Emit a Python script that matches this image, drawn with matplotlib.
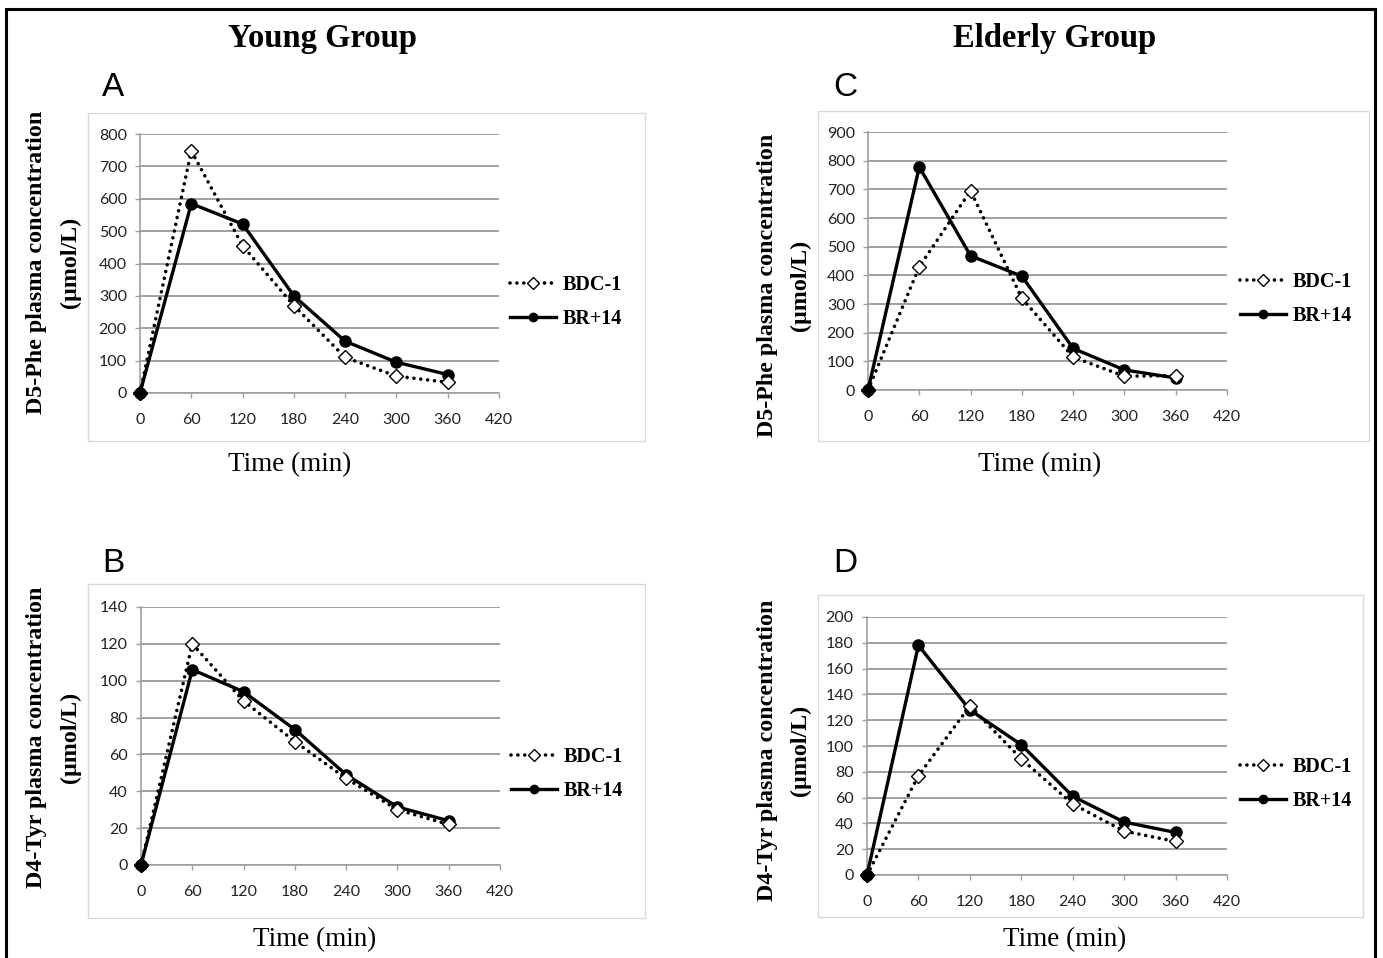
import matplotlib
matplotlib.use("Agg")
import matplotlib.pyplot as plt
from matplotlib.patches import Rectangle

# ---------------- data ----------------
times = [0, 60, 120, 180, 240, 300, 360]
series_names = ["BDC-1", "BR+14"]

young_phe_bdc = [0, 748, 455, 270, 110, 52, 33]
young_phe_br = [0, 585, 522, 300, 160, 95, 57]
elderly_phe_bdc = [0, 430, 695, 320, 115, 48, 50]
elderly_phe_br = [0, 778, 468, 397, 145, 70, 42]
young_tyr_bdc = [0, 120, 89, 67, 47, 30, 22]
young_tyr_br = [0, 106, 94, 73.5, 49, 31.5, 24]
elderly_tyr_bdc = [0, 77, 131, 90, 55, 34, 26]
elderly_tyr_br = [0, 178, 128, 101, 61, 41, 33]

x_ticks = [0, 60, 120, 180, 240, 300, 360, 420]
phe_young_yticks = list(range(0, 801, 100))
phe_elderly_yticks = list(range(0, 901, 100))
tyr_young_yticks = list(range(0, 141, 20))
tyr_elderly_yticks = list(range(0, 201, 20))

group_titles = ["Young Group", "Elderly Group"]
panel_letters = ["A", "C", "B", "D"]
ylabel_phe = "D5-Phe plasma concentration\n(\u00b5mol/L)"
ylabel_tyr = "D4-Tyr plasma concentration\n(\u00b5mol/L)"
xlabel = "Time (min)"

# ---------------- layout helpers ----------------
W, H = 1383, 958
fig = plt.figure(figsize=(W / 100, H / 100), dpi=100)
SERIF = ["Liberation Serif", "DejaVu Serif"]
SANS = ["Liberation Sans", "DejaVu Sans"]
TICKF = ["Lato", "DejaVu Sans"]


def fx(px):
    return px / W


def fy(py):
    return 1 - py / H


def rect(x0, x1, y0, y1):
    return [fx(x0), fy(y1), fx(x1) - fx(x0), fy(y0) - fy(y1)]


# outer border
fig.patches.append(Rectangle((fx(6), fy(970)), fx(1375) - fx(6), fy(9) - fy(970),
                             transform=fig.transFigure, fill=False, ec="black", lw=2.2))

# chart boxes
boxes = [(88, 645, 113, 441), (818, 1369, 111, 441), (88, 645, 584, 918), (818, 1363, 595, 917)]
for (x0, x1, y0, y1) in boxes:
    fig.patches.append(Rectangle((fx(x0), fy(y1)), fx(x1) - fx(x0), fy(y0) - fy(y1),
                                 transform=fig.transFigure, fill=False, ec="#d9d9d9", lw=1.0))

# titles
fig.text(fx(322), fy(38), group_titles[0], family=SERIF, weight="bold", fontsize=23.5,
         ha="center", va="center")
fig.text(fx(1055), fy(38), group_titles[1], family=SERIF, weight="bold", fontsize=23.5,
         ha="center", va="center")

panels = [
    dict(rect=(140, 499, 134, 393), bdc=young_phe_bdc, br=young_phe_br, yt=phe_young_yticks,
         letter=panel_letters[0], lpos=(113, 88), ylab=ylabel_phe, ylx=(37, 70), yly=262,
         xlpos=(290, 465), leg=(510, 302)),
    dict(rect=(868, 1227, 132, 390), bdc=elderly_phe_bdc, br=elderly_phe_br, yt=phe_elderly_yticks,
         letter=panel_letters[1], lpos=(845, 88), ylab=ylabel_phe, ylx=(767, 800), yly=285,
         xlpos=(1040, 465), leg=(1240, 299)),
    dict(rect=(141, 500, 607, 865), bdc=young_tyr_bdc, br=young_tyr_br, yt=tyr_young_yticks,
         letter=panel_letters[2], lpos=(113, 563), ylab=ylabel_tyr, ylx=(37, 70), yly=737,
         xlpos=(315, 940), leg=(511, 774)),
    dict(rect=(867, 1227, 617, 875), bdc=elderly_tyr_bdc, br=elderly_tyr_br, yt=tyr_elderly_yticks,
         letter=panel_letters[3], lpos=(845, 563), ylab=ylabel_tyr, ylx=(767, 800), yly=750,
         xlpos=(1065, 940), leg=(1240, 784)),
]

GRID = "#a0a0a0"
for p in panels:
    ax = fig.add_axes(rect(*p["rect"]))
    ax.set_xlim(0, 420)
    ax.set_ylim(0, p["yt"][-1])
    ax.set_xticks(x_ticks)
    ax.set_yticks(p["yt"])
    ax.set_xticklabels([str(t) for t in x_ticks], family=TICKF, fontsize=11.5, color="#222222")
    ax.set_yticklabels([str(t) for t in p["yt"]], family=TICKF, fontsize=11.5, color="#222222")
    ax.grid(axis="y", color=GRID, lw=1.4)
    ax.set_axisbelow(True)
    for s in ["top", "right"]:
        ax.spines[s].set_visible(False)
    for s in ["left", "bottom"]:
        ax.spines[s].set_color(GRID)
        ax.spines[s].set_linewidth(1.2)
    ax.tick_params(axis="both", direction="out", length=3.5, width=1.0, color=GRID)
    ax.tick_params(axis="x", pad=11)
    ax.tick_params(axis="y", pad=6)

    l_br, = ax.plot(times, p["br"], color="black", lw=2.4, marker="o", ms=8,
                    mfc="black", mec="black", clip_on=False, zorder=3, label=series_names[1])
    l_bdc, = ax.plot(times, p["bdc"], color="black", lw=2.6, ls=(0, (0.01, 1.9)),
                     dash_capstyle="round", marker="D", ms=7, mfc="white", mec="black",
                     mew=1.0, clip_on=False, zorder=4, label=series_names[0])
    ax.plot(times[:1], p["bdc"][:1], ls="none", marker="D", ms=7, color="black",
            clip_on=False, zorder=5)

    leg = ax.legend([l_bdc, l_br], series_names, loc="center left",
                    bbox_to_anchor=(fx(p["leg"][0]), fy(p["leg"][1])),
                    bbox_transform=fig.transFigure, frameon=False, borderpad=0,
                    borderaxespad=0, handlelength=2.3, handletextpad=0.3,
                    labelspacing=0.72, numpoints=1,
                    prop=dict(family=SERIF, weight="bold", size=14.5))
    for h in leg.legend_handles:
        h.set_markersize(6)

    fig.text(fx(p["lpos"][0]), fy(p["lpos"][1]), p["letter"], family=SANS, fontsize=24,
             ha="center", va="center")
    fig.text(fx(p["xlpos"][0]), fy(p["xlpos"][1]), xlabel, family=SERIF, fontsize=19.5,
             ha="center", va="center")
    l1, l2 = p["ylab"].split("\n")
    fig.text(fx(p["ylx"][0]), fy(p["yly"]), l1, family=SERIF, weight="bold", fontsize=17.3,
             rotation=90, ha="center", va="center")
    fig.text(fx(p["ylx"][1]), fy(p["yly"]), l2, family=SERIF, weight="bold", fontsize=17.3,
             rotation=90, ha="center", va="center")

fig.savefig("out.png", dpi=100)
